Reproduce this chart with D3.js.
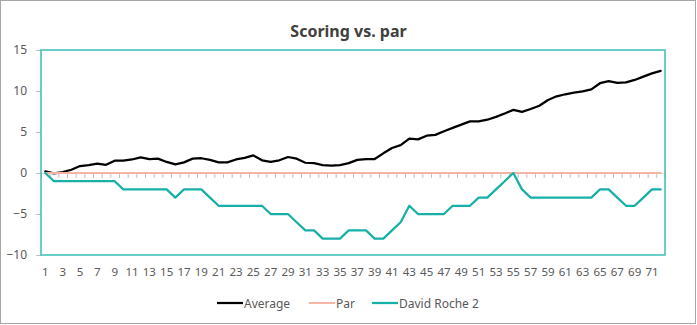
<!DOCTYPE html>
<html>
<head>
<meta charset="utf-8">
<script src="https://cdn.jsdelivr.net/npm/d3@7"></script>
<style>
  html, body { margin: 0; padding: 0; background: #fff; }
  svg { display: block; font-family: "Noto Sans", "Open Sans", sans-serif; }
</style>
</head>
<body>
<svg id="chart" width="697" height="325"></svg>
<script>
// Round numbers 1..72
const holes = d3.range(1, 73);

// Running score relative to par
const average = [
  0.2, -0.05, 0.1, 0.4, 0.85, 0.95, 1.15, 1.0, 1.5, 1.5,
  1.65, 1.9, 1.7, 1.75, 1.35, 1.05, 1.3, 1.75, 1.8, 1.6,
  1.3, 1.3, 1.65, 1.85, 2.15, 1.55, 1.35, 1.55, 1.95, 1.75,
  1.25, 1.2, 0.95, 0.9, 0.97, 1.2, 1.6, 1.7, 1.7, 2.4,
  3.05, 3.4, 4.2, 4.1, 4.55, 4.65, 5.1, 5.5, 5.9, 6.3,
  6.3, 6.5, 6.85, 7.25, 7.7, 7.45, 7.8, 8.2, 8.9, 9.35,
  9.6, 9.8, 9.95, 10.2, 10.95, 11.2, 11.0, 11.05, 11.35, 11.75,
  12.15, 12.45
];
const par = holes.map(() => 0);
const davidRoche2 = [
  0, -1, -1, -1, -1, -1, -1, -1, -1, -2,
  -2, -2, -2, -2, -2, -3, -2, -2, -2, -3,
  -4, -4, -4, -4, -4, -4, -5, -5, -5, -6,
  -7, -7, -8, -8, -8, -7, -7, -7, -8, -8,
  -7, -6, -4, -5, -5, -5, -5, -4, -4, -4,
  -3, -3, -2, -1, 0, -2, -3, -3, -3, -3,
  -3, -3, -3, -3, -2, -2, -3, -4, -4, -3,
  -2, -2
];

const yTicks = [-10, -5, 0, 5, 10, 15];
const xLabels = holes.filter(h => h % 2 === 1);
const title = "Scoring vs. par";

const series = [
  { name: "Average", values: average, color: "#000000", width: 2.25 },
  { name: "Par", values: par, color: "#f5b4a4", width: 2 },
  { name: "David Roche 2", values: davidRoche2, color: "#16b0a8", width: 2.25 }
];

const svg = d3.select("#chart");
const W = 697, H = 325;
const plot = { left: 41, right: 665, top: 50, bottom: 255 };
const textColor = "#595959";

// outer chart border
svg.append("rect")
  .attr("x", 0.5).attr("y", 0.5)
  .attr("width", W - 2).attr("height", H - 2)
  .attr("fill", "#fff").attr("stroke", "#a6a6a6").attr("stroke-width", 1);

const x = d3.scaleBand().domain(holes).range([plot.left, plot.right]).padding(0);
const xEdge = d3.scaleLinear().domain([0, holes.length]).range([plot.left, plot.right]);
const y = d3.scaleLinear().domain([-10, 15]).range([plot.bottom, plot.top]);
const cx = h => x(h) + x.bandwidth() / 2;

// title
svg.append("text")
  .attr("x", W / 2).attr("y", 37)
  .attr("text-anchor", "middle")
  .attr("font-size", 16).attr("font-weight", "bold")
  .attr("fill", "#404040")
  .text(title);

// y axis (labels with small outer ticks)
const yAxis = svg.append("g")
  .attr("transform", `translate(${plot.left},0)`)
  .call(d3.axisLeft(y).tickValues(yTicks).tickSize(5).tickPadding(9).tickFormat(d3.format("d")));
yAxis.select(".domain").remove();
yAxis.selectAll(".tick line").attr("stroke", "#bfbfbf");
yAxis.selectAll(".tick text")
  .attr("fill", textColor).attr("font-size", 12)
  .attr("font-family", "'Noto Sans', sans-serif");

// category axis line at zero, with tick marks between categories
const zeroAxis = svg.append("g")
  .attr("transform", `translate(0,${y(0)})`)
  .call(d3.axisBottom(xEdge).tickValues(d3.range(0, holes.length + 1)).tickSize(5).tickSizeOuter(0).tickFormat(""));
zeroAxis.select(".domain").attr("stroke", "#d9d9d9").attr("stroke-width", 1);
zeroAxis.selectAll(".tick line").attr("stroke", "#bfbfbf");

// category labels below the plot
const xAxis = svg.append("g")
  .attr("transform", `translate(0,${plot.bottom + 10})`)
  .call(d3.axisBottom(x).tickValues(xLabels).tickSize(0).tickPadding(3));
xAxis.select(".domain").remove();
xAxis.selectAll(".tick text")
  .attr("fill", textColor).attr("font-size", 11.5)
  .attr("font-family", "'Noto Sans', sans-serif");

// series lines
const line = d3.line()
  .x((d, i) => cx(holes[i]))
  .y(d => y(d));

series.forEach(s => {
  svg.append("path")
    .datum(s.values)
    .attr("fill", "none")
    .attr("stroke", s.color)
    .attr("stroke-width", s.width)
    .attr("stroke-linejoin", "round")
    .attr("stroke-linecap", "round")
    .attr("d", line);
});

// plot area frame
svg.append("rect")
  .attr("x", plot.left).attr("y", plot.top)
  .attr("width", plot.right - plot.left).attr("height", plot.bottom - plot.top)
  .attr("fill", "none").attr("stroke", "#3bbdb5").attr("stroke-width", 1.5);

// legend
const legendY = 303;
const legendItems = [
  { s: series[0], x0: 217 },
  { s: series[1], x0: 309 },
  { s: series[2], x0: 372 }
];
const lg = svg.append("g");
legendItems.forEach(it => {
  lg.append("line")
    .attr("x1", it.x0).attr("x2", it.x0 + 26)
    .attr("y1", legendY).attr("y2", legendY)
    .attr("stroke", it.s.color).attr("stroke-width", it.s.width);
  lg.append("text")
    .attr("x", it.x0 + 27).attr("y", legendY + 4.5)
    .attr("fill", textColor).attr("font-size", 12)
    .text(it.s.name);
});
</script>
</body>
</html>
